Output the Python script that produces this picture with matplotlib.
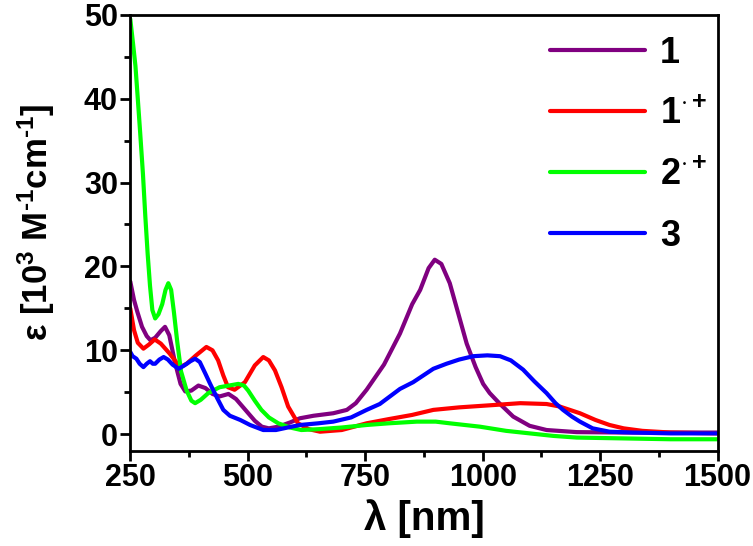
import matplotlib

matplotlib.use("Agg")

import matplotlib.pyplot as plt
from matplotlib.ticker import MultipleLocator

# wavelength (nm) / epsilon (10^3 M^-1 cm^-1)
wl_1 = [250, 258, 265, 275, 285, 293, 303, 315, 324, 333, 345, 357, 367, 380, 395,
        410, 425, 440, 459, 475, 495, 515, 530, 545, 565, 590, 611, 640, 682, 711,
        730, 753, 790, 824, 850, 867, 885, 898, 912, 930, 950, 966, 985, 1001, 1015,
        1037, 1065, 1100, 1136, 1200, 1300, 1400, 1500]
eps_1 = [18.2, 16.0, 14.6, 12.8, 11.7, 11.2, 11.5, 12.3, 12.8, 11.8, 8.6, 6.0, 5.1, 5.2, 5.8,
         5.5, 4.8, 4.5, 4.8, 4.2, 2.9, 1.6, 0.9, 0.7, 0.9, 1.4, 1.9, 2.2, 2.5, 2.9,
         3.7, 5.3, 8.3, 12.0, 15.5, 17.2, 19.8, 20.8, 20.3, 18.0, 14.0, 10.8, 8.0, 6.0, 4.9,
         3.6, 2.1, 1.0, 0.5, 0.25, 0.2, 0.2, 0.2]

wl_1c = [250, 258, 266, 278, 290, 302, 315, 334, 356, 370, 390, 412, 425, 437, 448,
         458, 472, 494, 515, 533, 545, 558, 572, 586, 607, 630, 654, 700, 753, 800,
         850, 895, 950, 1029, 1080, 1136, 1164, 1207, 1240, 1270, 1300, 1340, 1400, 1500]
eps_1c = [15.0, 12.4, 10.9, 10.2, 10.7, 11.3, 10.8, 9.6, 8.0, 8.4, 9.4, 10.4, 10.0, 8.8, 7.0,
          5.6, 5.3, 6.2, 8.2, 9.2, 8.8, 7.6, 5.6, 3.3, 1.3, 0.6, 0.3, 0.5, 1.3, 1.8,
          2.3, 2.9, 3.2, 3.5, 3.7, 3.6, 3.3, 2.5, 1.7, 1.1, 0.7, 0.4, 0.2, 0.1]

wl_2c = [250, 256, 261, 266, 271, 277, 282, 287, 292, 297, 303, 310, 318, 325, 331,
         337, 343, 350, 358, 370, 380, 388, 400, 416, 440, 460, 480, 492, 501, 515,
         529, 545, 565, 590, 614, 650, 700, 753, 800, 860, 900, 930, 994, 1050, 1100,
         1150, 1200, 1300, 1400, 1500]
eps_2c = [49.5, 46.5, 43.9, 40.0, 36.0, 31.0, 26.0, 21.5, 17.7, 14.8, 13.8, 14.3, 15.5, 17.2, 18.0,
          17.2, 14.5, 11.0, 7.5, 5.2, 4.0, 3.7, 4.1, 4.9, 5.6, 5.8, 6.0, 5.8, 5.2, 4.0,
          2.9, 2.0, 1.3, 0.8, 0.5, 0.6, 0.8, 1.1, 1.3, 1.5, 1.5, 1.3, 0.9, 0.4, 0.1,
          -0.2, -0.4, -0.5, -0.6, -0.6]

wl_3 = [250, 255, 263, 270, 278, 285, 292, 298, 303, 312, 321, 330, 340, 353, 365,
        378, 388, 398, 410, 420, 435, 448, 462, 484, 505, 533, 560, 585, 611, 650,
        682, 720, 753, 781, 824, 852, 895, 923, 950, 980, 1010, 1037, 1060, 1086, 1110,
        1136, 1155, 1171, 1190, 1207, 1234, 1270, 1320, 1400, 1500]
eps_3 = [9.8, 9.3, 9.0, 8.4, 8.0, 8.4, 8.7, 8.4, 8.4, 8.9, 9.2, 8.9, 8.3, 7.8, 8.2,
         8.7, 9.0, 8.6, 7.2, 6.0, 4.3, 2.9, 2.2, 1.7, 1.1, 0.5, 0.5, 0.8, 1.1, 1.3,
         1.5, 2.0, 2.9, 3.6, 5.4, 6.2, 7.8, 8.4, 8.9, 9.3, 9.4, 9.3, 8.8, 7.7, 6.3,
         4.9, 3.7, 2.9, 2.1, 1.5, 0.7, 0.3, 0.2, 0.1, 0.1]

SERIES = [
    (wl_1, eps_1, "#800080", "1"),
    (wl_1c, eps_1c, "#FF0000", r"1$^{\cdot+}$"),
    (wl_2c, eps_2c, "#00FF00", r"2$^{\cdot+}$"),
    (wl_3, eps_3, "#0000FF", "3"),
]

plt.rcParams["font.family"] = ["Liberation Sans", "DejaVu Sans"]
plt.rcParams["font.weight"] = "bold"
plt.rcParams["mathtext.fontset"] = "custom"
plt.rcParams["mathtext.rm"] = "Liberation Sans:bold"
plt.rcParams["mathtext.it"] = "Liberation Sans:bold"
plt.rcParams["mathtext.bf"] = "Liberation Sans:bold"

fig = plt.figure(figsize=(7.53, 5.46), dpi=100)
ax = fig.add_axes([0.173, 0.174, 0.780, 0.799])

for wl, eps, color, label in SERIES:
    ax.plot(wl, eps, color=color, linewidth=3.0, label=label, solid_capstyle="round")

ax.set_xlim(250, 1500)
ax.set_ylim(-2, 50)
ax.xaxis.set_major_locator(MultipleLocator(250))
ax.xaxis.set_minor_locator(MultipleLocator(125))
ax.yaxis.set_major_locator(MultipleLocator(10))
ax.yaxis.set_minor_locator(MultipleLocator(5))
ax.tick_params(axis="both", which="major", direction="out", length=7, width=2,
               labelsize=22, pad=2)
ax.tick_params(axis="both", which="minor", direction="out", length=4, width=2)
ax.tick_params(top=False, right=False, which="both")
for spine in ax.spines.values():
    spine.set_linewidth(2)

ax.set_xlabel("λ [nm]", fontsize=29, fontweight="bold", labelpad=4)
ax.set_ylabel(r"ε [10$^{3}$ M$^{\text{-}1}$cm$^{\text{-}1}$]", fontsize=25,
              fontweight="bold")
ax.yaxis.set_label_coords(-0.124, 0.525)

ax.legend(
    loc="upper left",
    bbox_to_anchor=(0.714, 0.952),
    borderaxespad=0,
    borderpad=0,
    frameon=False,
    fontsize=26,
    handlelength=2.65,
    handletextpad=0.4,
    labelspacing=0.72,
)

fig.savefig("out.png", dpi=100)
